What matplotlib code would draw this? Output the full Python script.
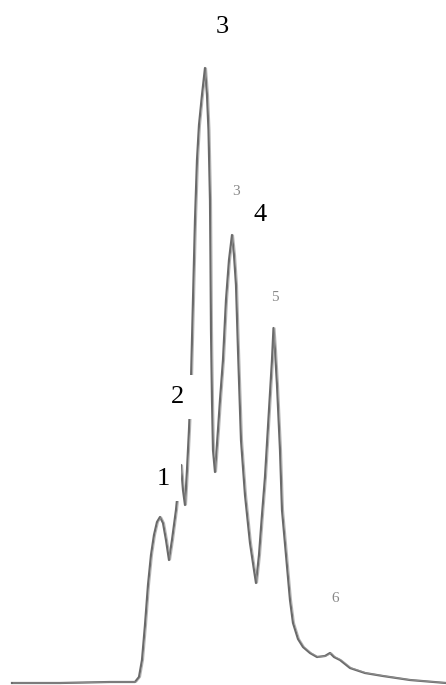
import matplotlib
matplotlib.use("Agg")
import matplotlib.pyplot as plt

# trace of the chromatogram (time position, detector signal)
t = [12, 60, 110, 135, 139, 142, 145, 148, 151, 154, 157, 160, 163, 166, 169,
     172, 176, 179, 181, 183, 185, 187, 189, 191, 193, 195, 197, 199, 202, 205,
     207, 208.5, 210, 210.5, 211, 212, 213, 215, 218, 220, 223, 226, 229, 232,
     234, 236, 238, 241, 245, 250, 254, 256,
     259, 262, 265, 269, 272, 273.5,
     275, 277, 280, 282, 286, 290, 293, 298, 303, 310, 317, 325, 330, 334, 340,
     350, 365, 383, 410, 446]
signal = [2, 2, 3, 3, 8, 25, 60, 100, 130, 150, 163, 168, 162, 145, 125,
          145, 175, 205, 220, 195, 180, 215, 255, 305, 385, 465, 525, 560, 590, 617,
          590, 555, 485, 425, 355, 285, 235, 213, 255, 285, 325, 385, 425, 450,
          430, 400, 335, 245, 190, 142, 115, 102,
          130, 170, 208, 275, 325, 357,
          335, 300, 235, 175, 130, 85, 62, 46, 38, 32, 28, 29, 32, 28, 25,
          17, 12, 9, 5, 2]

big_labels = ["1", "2", "3", "4"]
big_pos = [(163, 206), (178, 288), (222, 658), (260, 470)]
small_labels = ["5", "6", "3"]
small_pos = [(275, 388), (335, 87), (236, 494)]

fig = plt.figure(figsize=(4.46, 6.85), dpi=100)
ax = fig.add_axes([0, 0, 1, 1])
ax.set_xlim(0, 446)
ax.set_ylim(0, 685)
ax.axis("off")

ax.plot(t, signal, color="#6a6a6a", lw=1.6, solid_joinstyle="round")
ax.plot([x + 1.5 for x in t], signal, color="#9a9a9a", lw=0.8, alpha=0.7)

for lab, (x, y) in zip(big_labels, big_pos):
    ax.text(x, y, lab, fontsize=19, family="Liberation Serif", color="black",
            ha="center", va="center", zorder=5,
            bbox=dict(facecolor="white", edgecolor="none", pad=8))

for lab, (x, y) in zip(small_labels, small_pos):
    ax.text(x, y, lab, fontsize=11, family="Liberation Serif", color="#888888",
            ha="center", va="center", zorder=5)

fig.savefig("out.png", dpi=100)
